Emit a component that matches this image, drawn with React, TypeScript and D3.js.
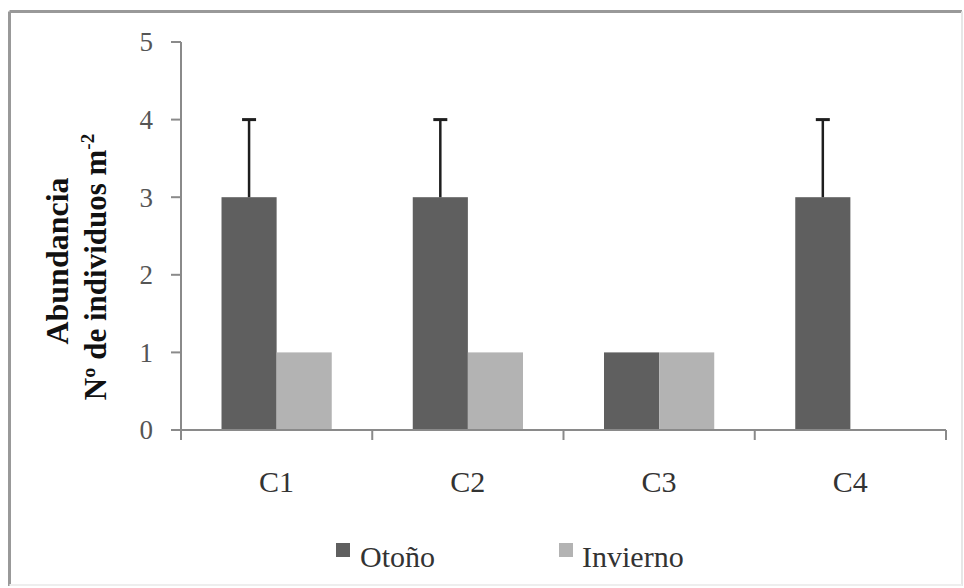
import React from "react";
import * as d3 from "d3";

const categories = ["C1", "C2", "C3", "C4"];
const seriesNames = ["Otoño", "Invierno"];
const otonoValues = [3, 3, 1, 3];
const otonoErrors = [1, 1, 0, 1];
const inviernoValues = [1, 1, 1, 0];
const inviernoErrors = [0, 0, 0, 0];
const yTicks = [0, 1, 2, 3, 4, 5];

const colors = ["#5f5f5f", "#b3b3b3"];
const FONT = "'Liberation Serif', 'Times New Roman', serif";

export default function App() {
  const W = 964, H = 588;
  const left = 181, right = 946, top = 42, bottom = 430;
  const x = d3.scaleBand<string>().domain(categories).range([left, right]).paddingInner(0).paddingOuter(0);
  const inner = d3.scaleBand<string>().domain(seriesNames).range([0, x.bandwidth()]).paddingInner(0).paddingOuter(0.735);
  const y = d3.scaleLinear().domain([0, 5]).range([bottom, top]);

  const series = [
    { name: seriesNames[0], values: otonoValues, errors: otonoErrors },
    { name: seriesNames[1], values: inviernoValues, errors: inviernoErrors },
  ];

  const boundaries = [...categories.map((c) => x(c)!), right];

  return (
    <svg width={W} height={H} style={{ position: "absolute", left: 0, top: 0, background: "#fff" }}>
      <rect x={0} y={0} width={W} height={H} fill="#fff" />
      {/* outer frame */}
      <line x1={9.5} y1={11.5} x2={962} y2={11.5} stroke="#999" strokeWidth={3} />
      <line x1={9.5} y1={11.5} x2={9.5} y2={586} stroke="#999" strokeWidth={3} />
      <line x1={962} y1={11.5} x2={962} y2={586} stroke="#e6e6e6" strokeWidth={2} />
      <line x1={9.5} y1={585} x2={962} y2={585} stroke="#eee" strokeWidth={2} />

      {/* bars */}
      {series.map((s, si) =>
        categories.map((c, ci) => {
          const v = s.values[ci];
          if (v <= 0) return null;
          const bx = x(c)! + inner(s.name)!;
          return (
            <rect key={s.name + c} x={bx} y={y(v)} width={inner.bandwidth()} height={y(0) - y(v)} fill={colors[si]} />
          );
        })
      )}
      {/* error bars */}
      {series.map((s) =>
        categories.map((c, ci) => {
          const e = s.errors[ci];
          if (e <= 0) return null;
          const cx = x(c)! + inner(s.name)! + inner.bandwidth() / 2;
          const v = s.values[ci];
          return (
            <g key={"e" + s.name + c} stroke="#1e1e1e" strokeWidth={2.5}>
              <line x1={cx} x2={cx} y1={y(v)} y2={y(v + e)} />
              <line x1={cx - 7} x2={cx + 7} y1={y(v + e)} y2={y(v + e)} strokeWidth={3} />
            </g>
          );
        })
      )}

      {/* y axis */}
      <line x1={left} x2={left} y1={top} y2={bottom + 10} stroke="#8a8a8a" strokeWidth={2} />
      {yTicks.map((t) => (
        <g key={t}>
          <line x1={left - 10} x2={left} y1={y(t)} y2={y(t)} stroke="#8a8a8a" strokeWidth={2} />
          <text x={153} y={y(t)} dy="0.35em" textAnchor="end" fontFamily={FONT} fontSize={27} fill="#555">
            {t}
          </text>
        </g>
      ))}
      {/* x axis */}
      <line x1={left} x2={right} y1={bottom} y2={bottom} stroke="#8a8a8a" strokeWidth={2} />
      {boundaries.map((bx, i) => (
        <line key={i} x1={bx} x2={bx} y1={bottom} y2={bottom + 10} stroke="#8a8a8a" strokeWidth={2} />
      ))}
      {categories.map((c) => (
        <text key={c} x={x(c)! + x.bandwidth() / 2} y={492} textAnchor="middle" fontFamily={FONT} fontSize={30} fill="#333">
          {c}
        </text>
      ))}

      {/* y title */}
      <text transform="translate(68,261) rotate(-90)" textAnchor="middle" fontFamily={FONT} fontSize={32} fontWeight="bold" fill="#111">
        Abundancia
      </text>
      <text transform="translate(106,267) rotate(-90)" textAnchor="middle" fontFamily={FONT} fontSize={31} fontWeight="bold" fill="#111">
        Nº de individuos m<tspan dy={-12} fontSize={19}>-2</tspan>
      </text>

      {/* legend */}
      <rect x={336} y={543} width={14} height={14} fill={colors[0]} />
      <text x={360} y={567} fontFamily={FONT} fontSize={30} fill="#333">{seriesNames[0]}</text>
      <rect x={559} y={543} width={14} height={14} fill={colors[1]} />
      <text x={582} y={567} fontFamily={FONT} fontSize={30} fill="#333">{seriesNames[1]}</text>
    </svg>
  );
}
